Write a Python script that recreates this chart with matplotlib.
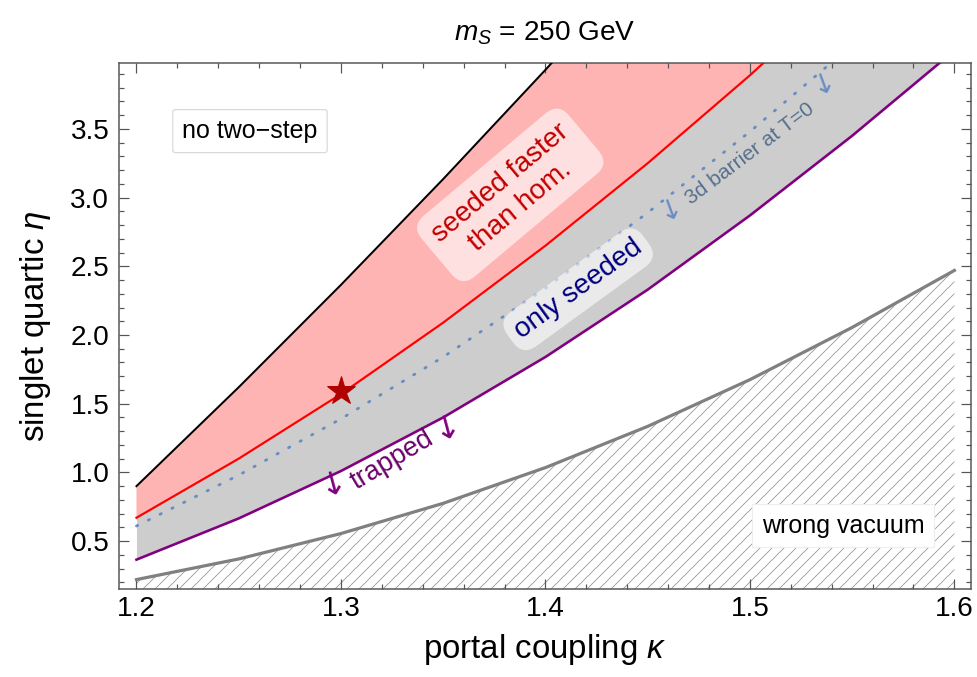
import matplotlib.pyplot as plt
from matplotlib.ticker import MultipleLocator, FormatStrFormatter

plt.rcParams["font.family"] = ["Liberation Sans", "DejaVu Sans"]
plt.rcParams["mathtext.fontset"] = "custom"
plt.rcParams["mathtext.rm"] = "Liberation Sans"
plt.rcParams["mathtext.it"] = "Liberation Sans:italic"
plt.rcParams["hatch.linewidth"] = 0.8

# portal coupling kappa and the boundary curves eta(kappa)
kappa = [1.20, 1.25, 1.30, 1.35, 1.40, 1.45, 1.50, 1.55, 1.60]
eta_two_step = [0.90, 1.62, 2.365, 3.135, 3.93, 4.75, 5.60, 6.50, 7.40]
eta_seeded_faster = [0.67, 1.10, 1.57, 2.09, 2.65, 3.25, 3.89, 4.57, 5.29]
eta_barrier_3d = [0.61, 0.98, 1.39, 1.84, 2.34, 2.89, 3.48, 4.11, 4.78]
eta_trapped = [0.365, 0.665, 1.01, 1.40, 1.84, 2.33, 2.87, 3.45, 4.07]
eta_wrong_vacuum = [0.22, 0.37, 0.555, 0.775, 1.035, 1.335, 1.675, 2.055, 2.47]

bench_kappa = [1.30]
bench_eta = [1.59]

fig = plt.figure(figsize=(977 / 72, 677 / 72), dpi=72)
ax = fig.add_axes([0.1221, 0.1295, 0.8715, 0.7779])

# regions
ax.fill_between(kappa, eta_seeded_faster, eta_two_step, color="#ffb4b4", lw=0, zorder=1)
ax.fill_between(kappa, eta_trapped, eta_seeded_faster, color="#cdcdcd", lw=0, zorder=1)
ax.fill_between(kappa, -1, eta_wrong_vacuum, facecolor="none", edgecolor="#959595",
                hatch="//", lw=0, zorder=1)

# boundaries
ax.plot(kappa, eta_two_step, color="black", lw=2, zorder=3)
ax.plot(kappa, eta_seeded_faster, color="#ff0000", lw=2.2, zorder=3)
ax.plot(kappa, eta_barrier_3d, color="#6a8cc4", lw=2.8, ls=(0, (0.5, 4.2)),
        dash_capstyle="round", zorder=3)
ax.plot(kappa, eta_trapped, color="#800080", lw=2.6, zorder=3)
ax.plot(kappa, eta_wrong_vacuum, color="#808080", lw=3.2, zorder=3)
ax.plot(bench_kappa, bench_eta, ls="none", marker="*", ms=30, color="#b00000", zorder=5)

# labels
ax.text(1.2555, 3.484, "no two\u2212step", fontsize=25, ha="center", va="center",
        bbox=dict(boxstyle="round,pad=0.38,rounding_size=0.1", fc="white", ec="#d9d9d9", lw=1.2),
        zorder=6)
ax.text(1.5456, 0.613, "wrong vacuum", fontsize=25, ha="center", va="center",
        bbox=dict(boxstyle="square,pad=0.38", fc="white", ec="#eeeeee", lw=1.2), zorder=6)
ax.text(1.3828, 3.02, "seeded faster\nthan hom.", fontsize=28, color="#c00000",
        ha="center", va="center", rotation=40, rotation_mode="anchor", linespacing=1.25,
        bbox=dict(boxstyle="round,pad=0.4,rounding_size=0.6", fc="white", alpha=0.6, ec="none"),
        zorder=6)
ax.text(1.416, 2.333, "only seeded", fontsize=28, color="#000080",
        ha="center", va="center", rotation=36, rotation_mode="anchor",
        bbox=dict(boxstyle="round,pad=0.3,rounding_size=0.6", fc="white", alpha=0.6, ec="none"),
        zorder=6)
ax.text(1.500, 3.318, "3d barrier at T=0", fontsize=21, color="#55708f",
        ha="center", va="center", rotation=37, rotation_mode="anchor", zorder=6)
ax.text(1.325, 1.091, "trapped", fontsize=27, color="#6a006a",
        ha="center", va="center", rotation=31, rotation_mode="anchor", zorder=6)

# arrows pointing to where each region continues
for ka, ea in [(1.2963, 0.915), (1.3518, 1.324)]:
    ax.text(ka, ea, "\u2193", fontsize=32, color="#800080", ha="center", va="center",
            rotation=15, family="DejaVu Sans", zorder=6)
for ka, ea in [(1.461, 2.915), (1.536, 3.83)]:
    ax.text(ka, ea, "\u2193", fontsize=28, color="#6a8cc4", ha="center", va="center",
            rotation=20, family="DejaVu Sans", zorder=6)

ax.set_xlim(1.1916, 1.608)
ax.set_ylim(0.149, 3.982)
ax.xaxis.set_major_locator(MultipleLocator(0.1))
ax.xaxis.set_minor_locator(MultipleLocator(0.02))
ax.yaxis.set_major_locator(MultipleLocator(0.5))
ax.yaxis.set_minor_locator(MultipleLocator(0.1))
ax.xaxis.set_major_formatter(FormatStrFormatter("%.1f"))
ax.yaxis.set_major_formatter(FormatStrFormatter("%.1f"))
ax.tick_params(which="both", direction="in", top=True, right=True, color="#555555",
               labelsize=28, width=1.2)
ax.tick_params(which="major", length=10, pad=7)
ax.tick_params(which="minor", length=5)
ax.tick_params(axis="y", which="major", pad=10)
for sp in ax.spines.values():
    sp.set_color("#555555")
    sp.set_linewidth(1.5)

ax.set_xlabel("portal coupling $\\kappa$", fontsize=33, labelpad=10)
ax.set_ylabel("singlet quartic $\\eta$", fontsize=33, labelpad=17)
ax.set_title("$m_S$ = 250 GeV", fontsize=28, pad=22)

fig.savefig("out.png", dpi=72)
